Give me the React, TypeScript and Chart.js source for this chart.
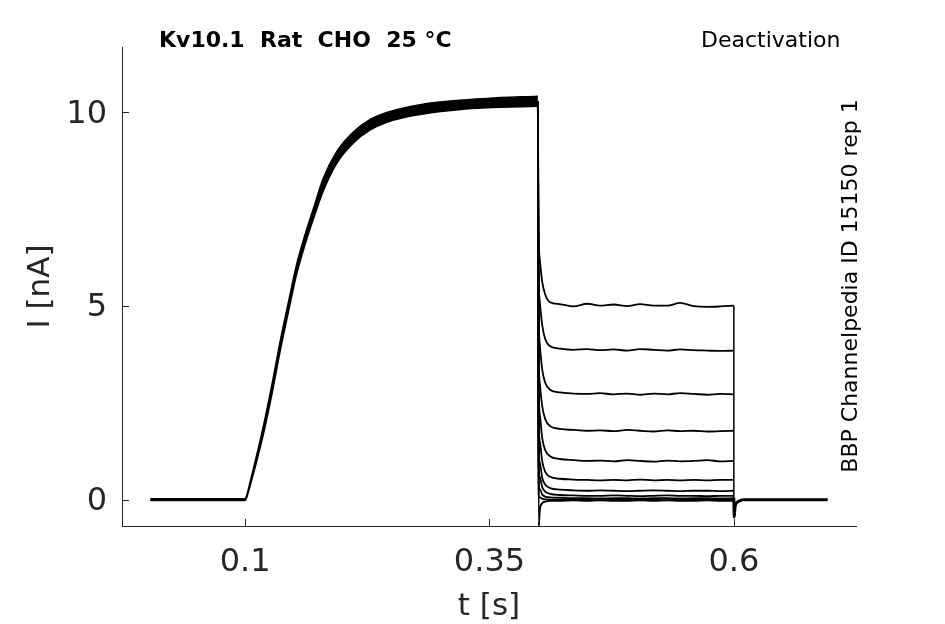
import React, { useEffect, useRef } from "react";
import { Chart, registerables } from "chart.js";

Chart.register(...registerables);

// ---- axes ----
const xTicks = [0.1, 0.35, 0.6];
const yTicks = [0, 5, 10];
const xMin = -0.026;
const xMax = 0.725;
const yMin = -0.68;
const yMax = 11.69;

// ---- texts ----
const titleText = "Kv10.1  Rat  CHO  25 °C";
const protocolText = "Deactivation";
const sourceText = "BBP Channelpedia ID 15150 rep 1";
const xLabel = "t [s]";
const yLabel = "I [nA]";

// ---- activation phase (band of overlapping sweeps: upper & lower edge) ----
const tAct = [0.003, 0.1, 0.101, 0.1051, 0.1102, 0.1187, 0.1273, 0.1358, 0.1443, 0.1528, 0.1614, 0.1699, 0.18, 0.194, 0.211, 0.228, 0.245, 0.279, 0.313, 0.347, 0.3995];
const iActHigh = [0.02, 0.02, 0.06, 0.45, 0.98, 1.9, 2.95, 4.08, 5.1, 6.08, 6.85, 7.52, 8.3, 9.0, 9.5, 9.82, 10.0, 10.2, 10.3, 10.36, 10.42];
const iActLow = [-0.02, -0.02, 0.02, 0.36, 0.84, 1.7, 2.72, 3.84, 4.86, 5.84, 6.6, 7.26, 7.98, 8.7, 9.22, 9.55, 9.75, 9.95, 10.06, 10.12, 10.16];

// ---- tail currents (one per sweep) ----
const tTail = [0.3995, 0.4003, 0.4015, 0.404, 0.407, 0.412, 0.422, 0.436, 0.45, 0.463, 0.477, 0.491, 0.504, 0.518, 0.532, 0.545, 0.559, 0.573, 0.586, 0.6];
const tail1 = [10.28, 6.9, 6.2, 5.62, 5.3, 5.1, 5.05, 4.99, 5.06, 5.01, 5.04, 5.0, 5.05, 5.01, 5.01, 5.08, 5.0, 4.98, 4.99, 5.01];
const tail2 = [10.28, 5.9, 5.1, 4.5, 4.15, 3.96, 3.9, 3.87, 3.89, 3.86, 3.88, 3.85, 3.89, 3.87, 3.85, 3.88, 3.86, 3.85, 3.84, 3.85];
const tail3 = [10.28, 4.9, 4.0, 3.35, 3.02, 2.84, 2.77, 2.74, 2.73, 2.75, 2.72, 2.74, 2.71, 2.74, 2.72, 2.75, 2.73, 2.71, 2.73, 2.72];
const tail4 = [10.28, 3.9, 3.0, 2.4, 2.08, 1.9, 1.83, 1.8, 1.78, 1.79, 1.77, 1.8, 1.78, 1.76, 1.79, 1.77, 1.78, 1.76, 1.77, 1.78];
const tail5 = [10.28, 3.0, 2.2, 1.58, 1.28, 1.12, 1.05, 1.02, 1.0, 1.01, 0.99, 1.02, 1.0, 0.98, 1.01, 0.99, 1.0, 1.02, 0.99, 1.0];
const tail6 = [10.28, 2.1, 1.5, 0.98, 0.72, 0.59, 0.54, 0.52, 0.51, 0.5, 0.51, 0.5, 0.52, 0.5, 0.51, 0.5, 0.51, 0.5, 0.51, 0.51];
const tail7 = [10.28, 1.4, 0.95, 0.56, 0.39, 0.3, 0.26, 0.24, 0.23, 0.24, 0.23, 0.22, 0.23, 0.24, 0.23, 0.22, 0.23, 0.23, 0.22, 0.23];
const tail8 = [10.28, 0.9, 0.58, 0.32, 0.21, 0.15, 0.12, 0.11, 0.1, 0.1, 0.11, 0.1, 0.09, 0.1, 0.11, 0.1, 0.1, 0.09, 0.1, 0.1];
const tail9 = [10.28, 0.45, 0.27, 0.13, 0.08, 0.06, 0.05, 0.04, 0.04, 0.03, 0.04, 0.04, 0.03, 0.04, 0.04, 0.03, 0.04, 0.04, 0.03, 0.04];
const tail10 = [10.28, 0.12, 0.06, 0.02, 0.01, 0.0, 0.0, 0.01, 0.0, -0.01, 0.0, 0.0, 0.01, 0.0, -0.01, 0.0, 0.0, 0.01, 0.0, 0.0];
const tail11 = [10.28, -0.72, -0.28, -0.09, -0.05, -0.03, -0.03, -0.02, -0.03, -0.02, -0.03, -0.03, -0.02, -0.03, -0.02, -0.03, -0.03, -0.02, -0.03, -0.03];
const tails = [tail1, tail2, tail3, tail4, tail5, tail6, tail7, tail8, tail9, tail10, tail11];

// ---- return to holding ----
const tDrop = [0.6, 0.6];
const iDrop = [5.01, 0.0];
const tRet = [0.6, 0.6004, 0.6012, 0.603, 0.606, 0.61, 0.696];
const iRet = [0.05, -0.45, -0.2, -0.08, -0.03, 0.0, 0.0];

const FONT = "'DejaVu Sans', sans-serif";
const AXIS_COLOR = "#262626";

const zip = (xs: number[], ys: number[]) => xs.map((x, i) => ({ x, y: ys[i] }));

const decor = {
  id: "decor",
  afterDraw(chart: any) {
    const { ctx, chartArea, scales } = chart;
    ctx.save();
    ctx.strokeStyle = AXIS_COLOR;
    ctx.lineWidth = 1;
    xTicks.forEach((v) => {
      const px = Math.round(scales.x.getPixelForValue(v)) + 0.5;
      ctx.beginPath();
      ctx.moveTo(px, chartArea.bottom);
      ctx.lineTo(px, chartArea.bottom - 7);
      ctx.stroke();
    });
    yTicks.forEach((v) => {
      const py = Math.round(scales.y.getPixelForValue(v)) + 0.5;
      ctx.beginPath();
      ctx.moveTo(chartArea.left, py);
      ctx.lineTo(chartArea.left + 7, py);
      ctx.stroke();
    });
    ctx.fillStyle = "#000";
    ctx.textBaseline = "alphabetic";
    ctx.textAlign = "left";
    ctx.font = `bold 22px ${FONT}`;
    ctx.fillText(titleText, 159, 47);
    ctx.font = `22px ${FONT}`;
    ctx.fillText(protocolText, 701, 46.5);
    ctx.translate(857, 286);
    ctx.rotate(-Math.PI / 2);
    ctx.textAlign = "center";
    ctx.font = `22px ${FONT}`;
    ctx.fillText(sourceText, 0, 0);
    ctx.restore();
  },
};

export default function App() {
  const ref = useRef<HTMLCanvasElement | null>(null);

  useEffect(() => {
    if (!ref.current) return;
    const line = (data: any[], width: number, extra: any = {}) => ({
      data,
      borderColor: "#000",
      backgroundColor: "#000",
      borderWidth: width,
      pointRadius: 0,
      fill: false,
      cubicInterpolationMode: "monotone",
      ...extra,
    });
    const datasets: any[] = [
      line(zip(tAct, iActHigh), 1.6, { fill: "+1" }),
      line(zip(tAct, iActLow), 1.6),
      ...tails.map((tr) => line(zip(tTail, tr), 1.8)),
      line(zip(tDrop, iDrop), 1.5, { cubicInterpolationMode: "default" }),
      line(zip(tRet, iRet), 3),
    ];
    const chart = new Chart(ref.current, {
      type: "line",
      data: { datasets },
      plugins: [decor],
      options: {
        animation: false,
        responsive: false,
        devicePixelRatio: 1,
        events: [],
        layout: { padding: { top: 47, right: 89, left: 0, bottom: 0 } },
        plugins: { legend: { display: false }, tooltip: { enabled: false }, title: { display: false } },
        scales: {
          x: {
            type: "linear",
            min: xMin,
            max: xMax,
            afterBuildTicks: (s: any) => {
              s.ticks = xTicks.map((v) => ({ value: v }));
            },
            afterFit: (s: any) => {
              s.height = 98;
            },
            grid: { display: true, drawOnChartArea: false, drawTicks: false },
            border: { display: true, color: AXIS_COLOR, width: 1 },
            ticks: {
              color: AXIS_COLOR,
              font: { family: FONT, size: 32 },
              padding: 17,
              maxRotation: 0,
              autoSkip: false,
              callback: (v: any) => String(v),
            },
            title: {
              display: true,
              text: xLabel,
              color: AXIS_COLOR,
              font: { family: FONT, size: 31 },
              padding: { top: 0, bottom: -2 },
            },
          },
          y: {
            type: "linear",
            min: yMin,
            max: yMax,
            afterBuildTicks: (s: any) => {
              s.ticks = yTicks.map((v) => ({ value: v }));
            },
            afterFit: (s: any) => {
              s.width = 122;
            },
            grid: { display: true, drawOnChartArea: false, drawTicks: false },
            border: { display: true, color: AXIS_COLOR, width: 1 },
            ticks: {
              color: AXIS_COLOR,
              font: { family: FONT, size: 32 },
              padding: 15,
              labelOffset: 2,
              autoSkip: false,
              callback: (v: any) => String(v),
            },
            title: {
              display: true,
              text: yLabel,
              color: AXIS_COLOR,
              font: { family: FONT, size: 31 },
              padding: { top: 22, bottom: 0 },
            },
          },
        },
      },
    });
    return () => chart.destroy();
  }, []);

  return (
    <div style={{ position: "absolute", left: 0, top: 0, width: 945, height: 624, background: "#fff" }}>
      <canvas ref={ref} width={945} height={624} style={{ display: "block", width: 945, height: 624 }} />
    </div>
  );
}
